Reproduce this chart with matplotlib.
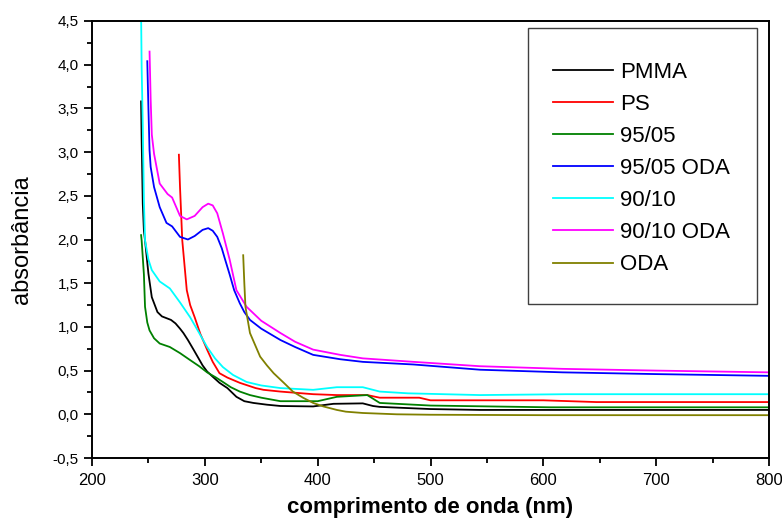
import numpy as np
import matplotlib.pyplot as plt
from matplotlib.patches import Rectangle
from matplotlib.ticker import MultipleLocator, FuncFormatter

# spectra (wavelength in nm, absorbance)
pmma_x = [243.5, 244, 245, 246, 247, 250, 253, 258, 262, 266, 270, 274, 278, 281, 285, 290, 294, 298, 302, 307,
          313, 320, 328, 335, 343, 355, 367, 396, 414, 440, 449, 455, 500, 544, 600, 700, 800]
pmma_y = [3.58, 3.14, 2.41, 2.1, 1.99, 1.61, 1.34, 1.17, 1.12, 1.10, 1.08, 1.04, 0.98, 0.93, 0.85, 0.74, 0.65,
          0.56, 0.49, 0.43, 0.36, 0.30, 0.20, 0.15, 0.13, 0.11, 0.095, 0.09, 0.12, 0.125, 0.095, 0.085, 0.06,
          0.05, 0.05, 0.05, 0.05]

ps_x = [277, 278, 280, 284, 287, 291, 296, 302, 307, 313, 320, 331, 345, 352, 367, 396, 417, 444, 455, 490, 500,
        600, 647, 700, 800]
ps_y = [2.97, 2.6, 1.99, 1.42, 1.25, 1.11, 0.92, 0.74, 0.60, 0.47, 0.42, 0.36, 0.30, 0.28, 0.26, 0.23, 0.22,
        0.22, 0.19, 0.19, 0.16, 0.16, 0.14, 0.14, 0.14]

p9505_x = [243.5, 244, 246, 247, 249, 251, 255, 260, 269, 278, 287, 295, 302, 310, 316, 323, 331, 340, 350, 367,
           400, 417, 444, 455, 500, 606, 700, 800]
p9505_y = [2.05, 1.99, 1.6, 1.23, 1.05, 0.96, 0.87, 0.81, 0.77, 0.70, 0.62, 0.55, 0.48, 0.42, 0.37, 0.31, 0.26,
           0.22, 0.19, 0.15, 0.15, 0.20, 0.22, 0.13, 0.10, 0.08, 0.08, 0.08]

p9505oda_x = [249, 250, 251, 252, 255, 260, 266, 271, 278, 285, 291, 298, 303, 307, 311, 315, 318, 322, 326, 331,
              335, 340, 350, 367, 380, 396, 420, 440, 485, 544, 617, 700, 800]
p9505oda_y = [4.04, 3.5, 3.02, 2.83, 2.6, 2.37, 2.19, 2.15, 2.03, 2.0, 2.04, 2.11, 2.13, 2.10, 2.03, 1.9, 1.77,
              1.6, 1.42, 1.27, 1.17, 1.08, 0.98, 0.85, 0.77, 0.68, 0.63, 0.60, 0.57, 0.51, 0.48, 0.46, 0.44]

p9010_x = [243.5, 244, 245, 246, 247, 250, 253, 260, 269, 278, 287, 295, 302, 309, 316, 325, 337, 350, 367, 396,
           417, 440, 455, 480, 544, 620, 700, 800]
p9010_y = [4.6, 3.97, 3.3, 2.45, 1.99, 1.77, 1.65, 1.52, 1.44, 1.28, 1.11, 0.93, 0.77, 0.64, 0.54, 0.45, 0.37,
           0.33, 0.30, 0.28, 0.31, 0.31, 0.26, 0.24, 0.22, 0.23, 0.23, 0.23]

p9010oda_x = [251, 252, 253, 255, 260, 267, 271, 278, 284, 291, 298, 303, 307, 311, 316, 322, 328, 337, 350, 367,
              380, 396, 420, 440, 485, 544, 617, 700, 800]
p9010oda_y = [4.15, 3.6, 3.2, 2.98, 2.64, 2.52, 2.48, 2.27, 2.23, 2.27, 2.37, 2.41, 2.39, 2.30, 2.07, 1.77, 1.42,
              1.23, 1.07, 0.93, 0.83, 0.74, 0.68, 0.64, 0.60, 0.55, 0.52, 0.50, 0.48]

oda_x = [334, 335, 336, 340, 345, 349, 355, 361, 370, 378, 387, 396, 405, 417, 425, 440, 470, 500, 600, 700, 800]
oda_y = [1.82, 1.5, 1.23, 0.93, 0.78, 0.66, 0.56, 0.47, 0.36, 0.26, 0.19, 0.13, 0.09, 0.05, 0.03, 0.015, 0.0,
         -0.005, -0.01, -0.01, -0.01]

series = [
    ("PMMA", pmma_x, pmma_y, "black"),
    ("PS", ps_x, ps_y, "#ff0000"),
    ("95/05", p9505_x, p9505_y, "#008000"),
    ("95/05 ODA", p9505oda_x, p9505oda_y, "#0000ff"),
    ("90/10", p9010_x, p9010_y, "#00ffff"),
    ("90/10 ODA", p9010oda_x, p9010oda_y, "#ff00ff"),
    ("ODA", oda_x, oda_y, "#808000"),
]

plt.rcParams['font.family'] = ['Liberation Sans', 'DejaVu Sans']

fig = plt.figure(figsize=(7.82, 5.23), dpi=100)
ax = fig.add_axes([92 / 782, 65 / 523, 677 / 782, 437 / 523])

for label, x, y, color in series:
    ax.plot(x, y, color=color, lw=1.3, label=label)

ax.set_xlim(200, 800)
ax.set_ylim(-0.5, 4.5)
ax.xaxis.set_major_locator(MultipleLocator(100))
ax.xaxis.set_minor_locator(MultipleLocator(50))
ax.yaxis.set_major_locator(MultipleLocator(0.5))
ax.yaxis.set_minor_locator(MultipleLocator(0.25))
ax.yaxis.set_major_formatter(FuncFormatter(lambda v, p: ("%.1f" % v).replace(".", ",")))
ax.tick_params(which='major', direction='out', length=6, width=1.3)
ax.tick_params(which='minor', direction='out', length=3.5, width=1.3)
ax.tick_params(axis='y', labelsize=11)
ax.tick_params(axis='x', labelsize=12, pad=5)
for s in ax.spines.values():
    s.set_linewidth(1.4)

ax.set_xlabel("comprimento de onda (nm)", fontsize=16, fontweight='bold', labelpad=6)
ax.set_ylabel("absorbância", fontsize=17)
ax.yaxis.set_label_coords(-0.087, 0.5)

# legend box drawn separately so it can be taller than its entries
ax.add_patch(Rectangle((0.644, 0.352), 0.338, 0.632, transform=ax.transAxes, fill=True,
                       facecolor='white', edgecolor='#404040', lw=1.0, zorder=4))
leg = ax.legend(loc='upper right', bbox_to_anchor=(0.982, 0.968), fontsize=16, frameon=False,
                borderpad=1.2, handlelength=2.7, handletextpad=0.3, labelspacing=0.5,
                borderaxespad=0)
leg.set_zorder(5)

plt.savefig('out.png', dpi=100)
